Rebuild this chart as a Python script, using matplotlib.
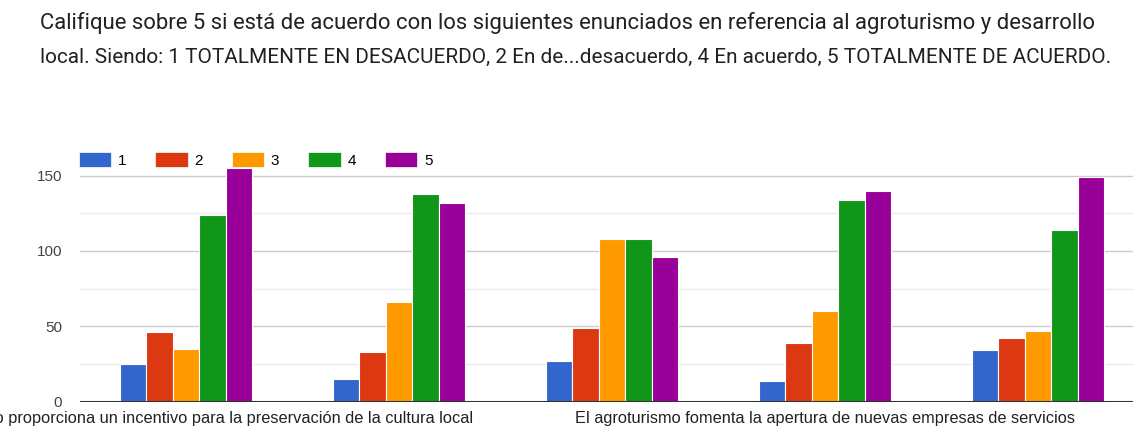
import matplotlib
matplotlib.use("Agg")
import matplotlib.pyplot as plt
import numpy as np
from matplotlib.patches import Patch

# survey answers per statement, one list per rating 1..5
categories = [
    "El agroturismo proporciona un incentivo para la preservación de la cultura local",
    "",
    "",
    "El agroturismo fomenta la apertura de nuevas empresas de servicios",
    "",
]
ratings = ["1", "2", "3", "4", "5"]
r1 = [25, 15, 27, 14, 34]
r2 = [46, 33, 49, 39, 42]
r3 = [35, 66, 108, 60, 47]
r4 = [124, 138, 108, 134, 114]
r5 = [155, 132, 96, 140, 149]
series = [r1, r2, r3, r4, r5]
colors = ["#3366cc", "#dc3912", "#ff9900", "#109618", "#990099"]

title_lines = [
    "Califique sobre 5 si está de acuerdo con los siguientes enunciados en referencia al agroturismo y desarrollo",
    "local. Siendo: 1 TOTALMENTE EN DESACUERDO, 2 En de...desacuerdo, 4 En acuerdo, 5 TOTALMENTE DE ACUERDO.",
]

W, H = 1133, 428
fig = plt.figure(figsize=(W / 100, H / 100), dpi=100)
ax = fig.add_axes([79.5 / W, 26.3 / H, 1065 / W, 157 * 1.507 / H])

x = np.arange(len(categories))
bw = 0.124
for i, (vals, c) in enumerate(zip(series, colors)):
    ax.bar(x + (i - 2) * bw, vals, width=bw, color=c, edgecolor="white",
           linewidth=0.8, zorder=3, clip_on=False)

ax.set_xlim(-0.5, len(categories) - 0.5)
ax.set_ylim(0, 157)
ax.set_yticks([0, 50, 100, 150])
ax.set_yticks([25, 75, 125], minor=True)
ax.grid(axis="y", which="major", color="#cccccc", linewidth=1, zorder=0)
ax.grid(axis="y", which="minor", color="#ebebeb", linewidth=1, zorder=0)
ax.axhline(0, color="#333333", linewidth=1.5, zorder=4)
for s in ax.spines.values():
    s.set_visible(False)
ax.tick_params(axis="y", which="both", length=0, pad=12.5, labelsize=11,
               labelcolor="#444444")
ax.tick_params(axis="x", length=0, pad=7, labelsize=11.8, labelcolor="#222222")
ax.set_xticks(x)
ax.set_xticklabels(categories)
for lbl in ax.get_yticklabels() + ax.get_xticklabels():
    lbl.set_fontfamily("Liberation Sans")

handles = [Patch(facecolor=c, edgecolor="white", linewidth=0.5) for c in colors]
fig.legend(handles, ratings, loc="upper left", ncol=5,
           bbox_to_anchor=(79 / W, 1 - 152 / H), frameon=False,
           prop={"family": "Liberation Sans", "size": 11},
           handlelength=2.1, handleheight=1.1, handletextpad=0.45,
           columnspacing=1.9, borderaxespad=0, borderpad=0)

# two-line heading, each line sized to its own width
renderer = fig.canvas.get_renderer()
for line, ypix, target in zip(title_lines, [23, 57], [1060, 1072]):
    t = fig.text(40 / W, 1 - ypix / H, line, fontsize=16, family="Roboto",
                 color="#202124", va="center", ha="left")
    w = t.get_window_extent(renderer).width
    t.set_fontsize(16 * target / w)

fig.savefig("out.png", dpi=100, facecolor="white")
